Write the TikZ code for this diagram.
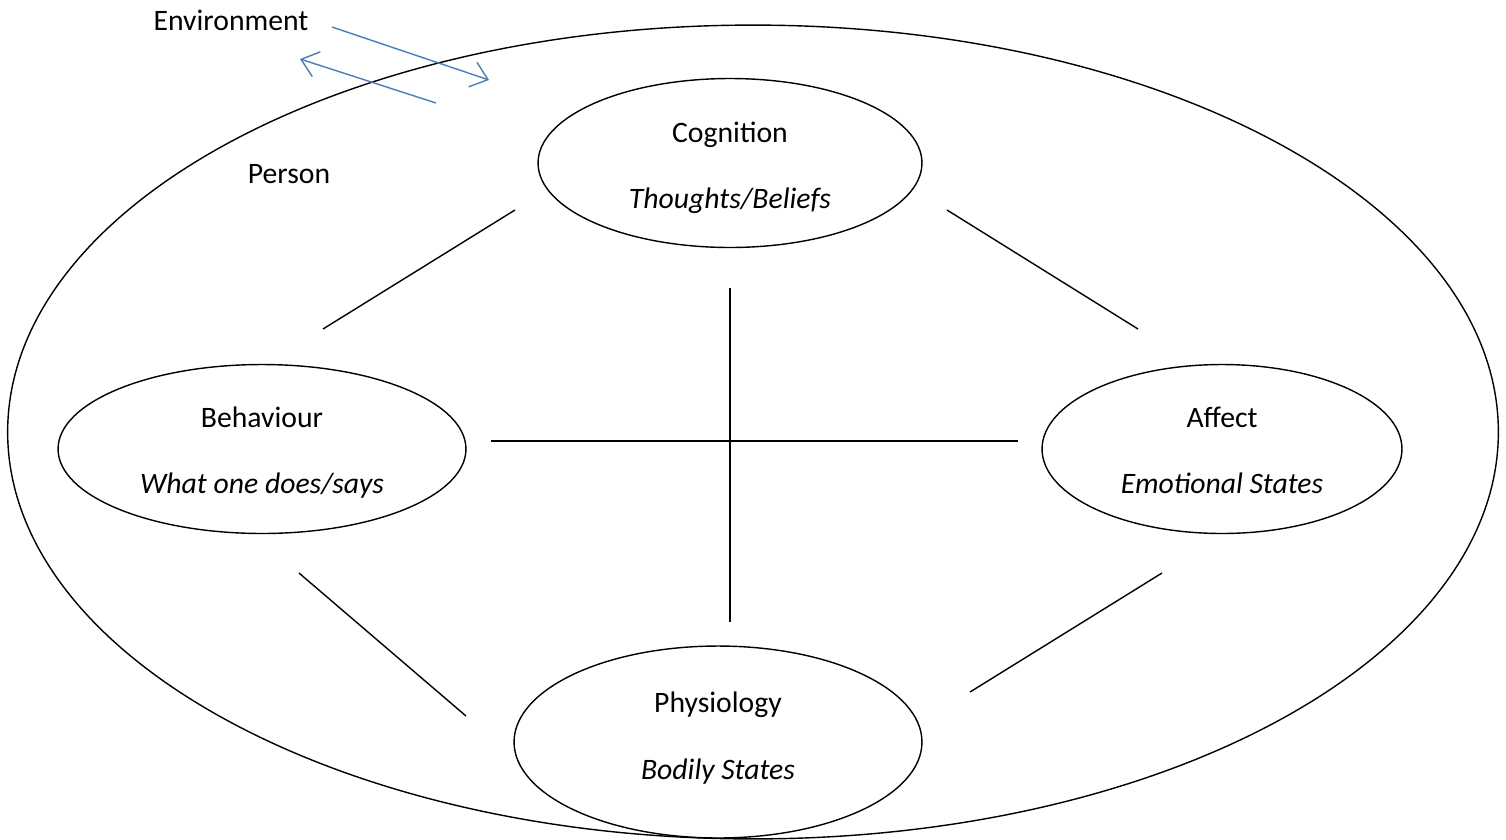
\documentclass[tikz,border=0pt]{standalone}
\usepackage{fontspec}
\setmainfont{Carlito}
\usetikzlibrary{positioning, shapes.geometric, arrows.meta}

\definecolor{envblue}{HTML}{4A7EBB}

\begin{document}
\begin{tikzpicture}[
        x=0.02cm, y=-0.02cm,
        font=\fontsize{16.9}{20.3}\selectfont,
        area/.style={
          ellipse, draw, line width=0.8pt, inner sep=0pt
        },
        part/.style={
          area, minimum width=8.16cm, minimum height=3.38cm
        },
        title/.style={
          anchor=base, inner sep=0pt
        },
        subtitle/.style={
          title, font=\fontsize{16.9}{20.3}\selectfont\itshape
        },
        link/.style={
          line width=0.8pt, -
        },
        flow/.style={
          line width=0.8pt, draw=envblue, -{Straight Barb[length=3.2mm,width=5.2mm]}
        },
      ]
        \useasboundingbox (0,0) rectangle (1506,839);

        % person
        \node [area, minimum width=29.82cm, minimum height=16.28cm] (person) at (753,432) {};
        \node [title] (person_label) at (289,183) {Person};
        \node [title] (env_label) at (231,30) {Environment};

        % ellipses
        \node [part, minimum width=7.68cm] (cognition) at (730,163) {};
        \node [part] (behaviour) at (262,449) {};
        \node [part, minimum width=7.2cm] (affect) at (1222,449) {};
        \node [part, minimum height=3.84cm] (physiology) at (718,742) {};

        % texts
        \node [title] (cognition_title) at (730,142) {Cognition};
        \node [subtitle] (cognition_sub) at (730,208) {Thoughts/Beliefs};
        \node [title] (behaviour_title) at (262,427) {Behaviour};
        \node [subtitle] (behaviour_sub) at (262,493) {What one does/says};
        \node [title] (affect_title) at (1222,427) {Affect};
        \node [subtitle] (affect_sub) at (1222,493) {Emotional States};
        \node [title] (physiology_title) at (718,712) {Physiology};
        \node [subtitle] (physiology_sub) at (718,779) {Bodily States};

        % line ends
        \coordinate (cb_a) at (515,210);
        \coordinate (cb_b) at (323,329);
        \coordinate (ca_a) at (947,210);
        \coordinate (ca_b) at (1138,329);
        \coordinate (ba_a) at (491,441);
        \coordinate (ba_b) at (1018,441);
        \coordinate (cp_a) at (730,288);
        \coordinate (cp_b) at (730,622);
        \coordinate (bp_a) at (299,573);
        \coordinate (bp_b) at (466,716);
        \coordinate (ap_a) at (1162,573);
        \coordinate (ap_b) at (970,692);

        % links
        \draw [link] (cb_a) -- (cb_b);
        \draw [link] (ca_a) -- (ca_b);
        \draw [link] (ba_a) -- (ba_b);
        \draw [link] (cp_a) -- (cp_b);
        \draw [link] (bp_a) -- (bp_b);
        \draw [link] (ap_a) -- (ap_b);

        % environment arrows
        \coordinate (in_a) at (332,27);
        \coordinate (in_b) at (489,80);
        \coordinate (out_a) at (436,103);
        \coordinate (out_b) at (300,59);
        \draw [flow] (in_a) -- (in_b);
        \draw [flow] (out_a) -- (out_b);

      \end{tikzpicture}
\end{document}
